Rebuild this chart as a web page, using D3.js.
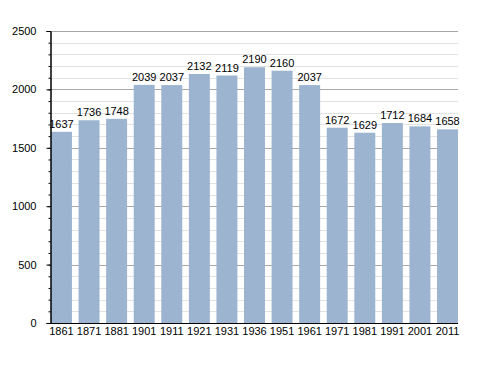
<!DOCTYPE html>
<html>
<head>
<meta charset="utf-8">
<script src="https://cdn.jsdelivr.net/npm/d3@7"></script>
<style>
  body { margin: 0; background: #fff; }
  text { font-family: "Liberation Sans", Arial, sans-serif; font-size: 11px; fill: #000; }
</style>
</head>
<body>
<div id="chart"></div>
<script>
// population by census year
var years = ["1861", "1871", "1881", "1901", "1911", "1921", "1931", "1936", "1951", "1961", "1971", "1981", "1991", "2001", "2011"];
var population = [1637, 1736, 1748, 2039, 2037, 2132, 2119, 2190, 2160, 2037, 1672, 1629, 1712, 1684, 1658];
var yTicks = [0, 500, 1000, 1500, 2000, 2500];

var svgWidth = 488;
var svgHeight = 373;

var margin = { top: 31, right: 30, bottom: 50, left: 50 };
var width = svgWidth - margin.left - margin.right;
var height = svgHeight - margin.top - margin.bottom;

var svg = d3
  .select("#chart")
  .append("svg")
  .attr("width", svgWidth)
  .attr("height", svgHeight);

var chartGroup = svg
  .append("g")
  .attr("transform", `translate(${margin.left}, ${margin.top})`);

var xScale = d3
  .scaleBand()
  .domain(years)
  .range([1, width])
  .paddingInner(0.24)
  .paddingOuter(0);

var yScale = d3.scaleLinear().domain([0, 2500]).range([height, 0]);

// minor gridlines every 100
var minor = d3.range(100, 2501, 100).filter((v) => v % 500 !== 0);
chartGroup
  .append("g")
  .selectAll("line")
  .data(minor)
  .enter()
  .append("line")
  .attr("x1", 0)
  .attr("x2", width)
  .attr("y1", (d) => Math.round(yScale(d)) + 0.5)
  .attr("y2", (d) => Math.round(yScale(d)) + 0.5)
  .attr("stroke", "#e2e2e2");

// major gridlines
chartGroup
  .append("g")
  .selectAll("line")
  .data(yTicks.slice(1))
  .enter()
  .append("line")
  .attr("x1", 0)
  .attr("x2", width)
  .attr("y1", (d) => Math.round(yScale(d)) + 0.5)
  .attr("y2", (d) => Math.round(yScale(d)) + 0.5)
  .attr("stroke", "#a8a8a8");

// bars
chartGroup
  .selectAll("rect")
  .data(population)
  .enter()
  .append("rect")
  .attr("x", (d, i) => xScale(years[i]))
  .attr("y", (d) => yScale(d))
  .attr("width", xScale.bandwidth())
  .attr("height", (d) => height - yScale(d))
  .attr("fill", "#9db4d0");

// value labels
chartGroup
  .append("g")
  .selectAll("text")
  .data(population)
  .enter()
  .append("text")
  .attr("x", (d, i) => xScale(years[i]) + xScale.bandwidth() / 2)
  .attr("y", (d) => yScale(d) - 4)
  .attr("text-anchor", "middle")
  .text((d) => d);

// y axis with minor ticks
var minorAxis = d3
  .axisLeft(yScale)
  .tickValues(d3.range(0, 2501, 100))
  .tickSize(2)
  .tickFormat("");
chartGroup.append("g").attr("transform", "translate(0.5,0)").call(minorAxis);

var leftAxis = d3
  .axisLeft(yScale)
  .tickValues(yTicks)
  .tickSize(4)
  .tickPadding(10)
  .tickFormat(d3.format("d"));
var yAxis = chartGroup.append("g").attr("transform", "translate(0.5,0)").call(leftAxis);
yAxis.selectAll(".domain, line").attr("stroke", "#000");
chartGroup.selectAll(".domain").attr("stroke", "#000");

// x axis
var bottomAxis = d3.axisBottom(xScale).tickSize(0).tickPadding(4);
var xAxis = chartGroup
  .append("g")
  .attr("transform", `translate(0, ${height + 0.5})`)
  .call(bottomAxis);
xAxis.select(".domain").attr("stroke", "#000").attr("d", `M0,0H${width}`);

svg.selectAll(".tick text").style("font-size", "11px").style("font-family", '"Liberation Sans", Arial, sans-serif');
</script>
</body>
</html>
